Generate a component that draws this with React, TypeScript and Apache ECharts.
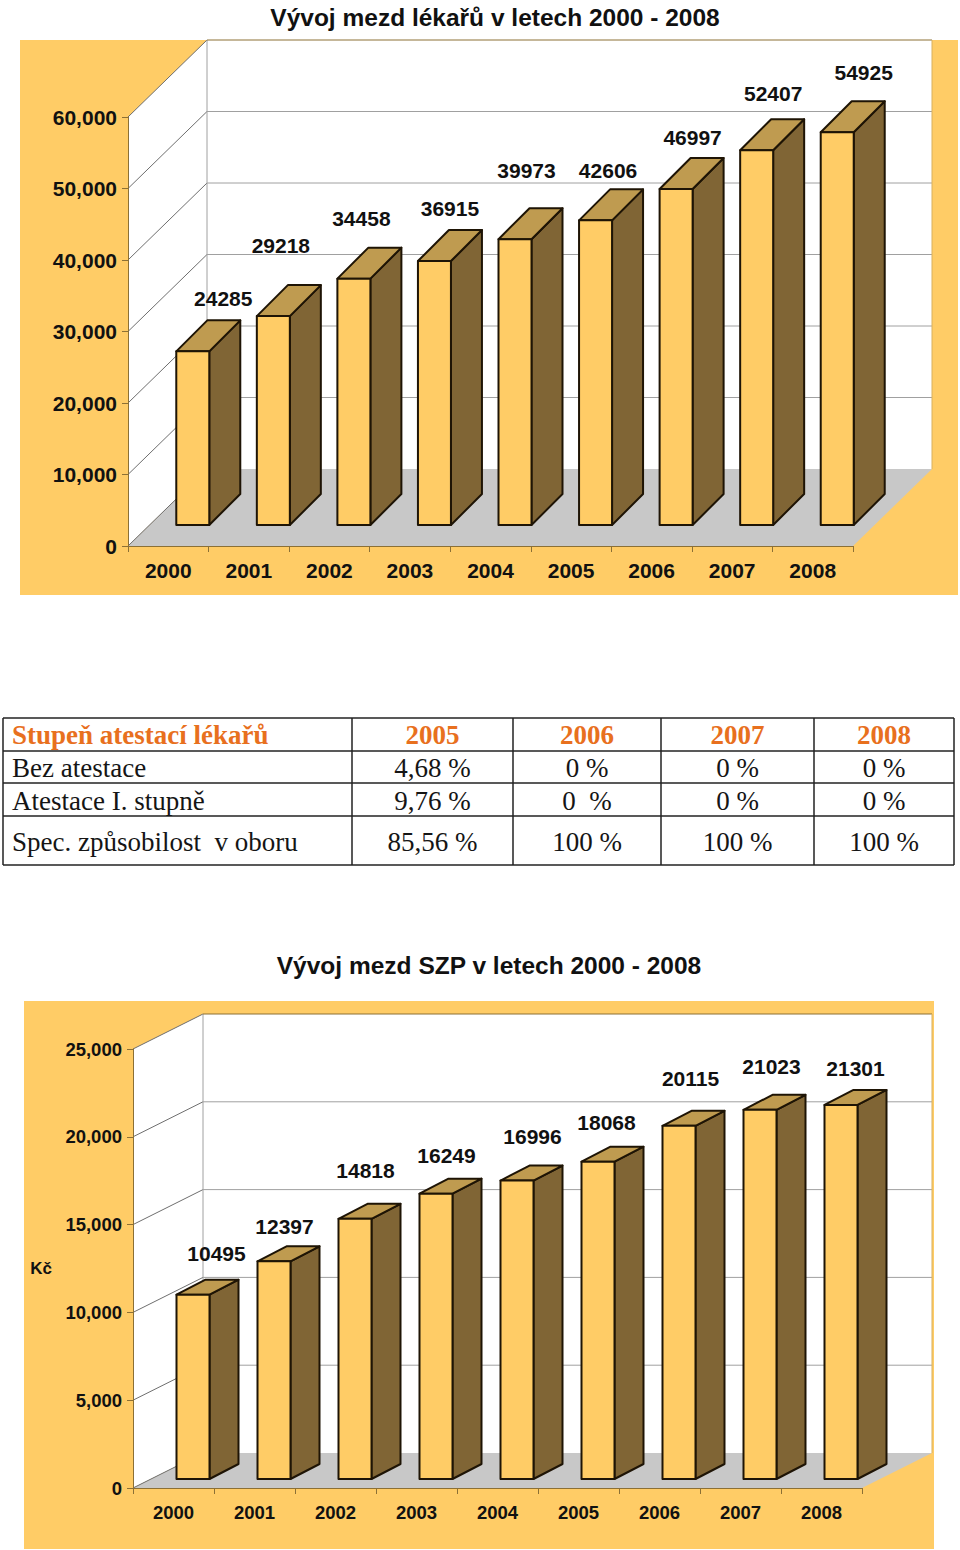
import React, { useEffect, useRef } from "react";
import * as echarts from "echarts";

const years = ["2000", "2001", "2002", "2003", "2004", "2005", "2006", "2007", "2008"];
const doctorPay = [24285, 29218, 34458, 36915, 39973, 42606, 46997, 52407, 54925];
const nursePay = [10495, 12397, 14818, 16249, 16996, 18068, 20115, 21023, 21301];
const doctorTicks = [0, 10000, 20000, 30000, 40000, 50000, 60000];
const nurseTicks = [0, 5000, 10000, 15000, 20000, 25000];
const doctorTitle = "Vývoj mezd lékařů v letech 2000 - 2008";
const nurseTitle = "Vývoj mezd SZP v letech 2000 - 2008";
const nurseAxisName = "Kč";

const tableHeader = ["Stupeň atestací lékařů", "2005", "2006", "2007", "2008"];
const tableRow1 = ["Bez atestace", "4,68 %", "0 %", "0 %", "0 %"];
const tableRow2 = ["Atestace I. stupně", "9,76 %", "0  %", "0 %", "0 %"];
const tableRow3 = ["Spec. způsobilost  v oboru", "85,56 %", "100 %", "100 %", "100 %"];

// layout (pixels)
const doctorLabelDx = [47, 24, 24, 32, 28, 29, 33, 33, 43];
const doctorLabelDy = [-22, -40, -29, -22, -38, -19, -20, -26, -29];
const nurseLabelDx = [40, 27, 27, 27, 32, 25, 28, 28, 31];
const nurseLabelDy = [-26, -20, -33, -23, -29, -24, -32, -28, -21];
const colX = [3, 352, 513, 661, 814, 954];
const rowY = [718, 751, 783, 816, 865];
const rowText = [735, 768, 801, 842];

const SANS = '"Liberation Sans", Arial, sans-serif';
const SERIF = '"Liberation Serif", "Times New Roman", serif';
const PANEL = "#FFCC66";
const TOP = "#BF9B50";
const SIDE = "#806535";
const EDGE = "#1E1405";
const AXIS = "#8C7035";
const GRID = "#A0A0A0";
const FLOOR = "#C8C8C8";
const INK = "#111111";

type Conf = {
  gridIndex: number; ticks: number[]; values: number[];
  wallDx: number; wallDy: number; barW: number; barDx: number; barDy: number;
  shift: number; lift: number; labelDx: number[]; labelDy: number[]; labelSize: number;
};

function wallsSeries(c: Conf) {
  return {
    type: "custom", coordinateSystem: "cartesian2d",
    xAxisIndex: c.gridIndex, yAxisIndex: c.gridIndex,
    z: 1, silent: true, clip: false, data: [[0, 0]],
    renderItem: (params: any, api: any) => {
      const s = params.coordSys;
      const l = s.x, r = s.x + s.width, t = s.y, b = s.y + s.height;
      const dx = c.wallDx, dy = c.wallDy;
      const children: any[] = [
        { type: "polygon", shape: { points: [[l + dx, t + dy], [r + dx, t + dy], [r + dx, b + dy], [l + dx, b + dy]] }, style: { fill: "#fff" } },
        { type: "polygon", shape: { points: [[l, t], [l + dx, t + dy], [l + dx, b + dy], [l, b]] }, style: { fill: "#fff" } },
        { type: "polygon", shape: { points: [[l, b], [r, b], [r + dx, b + dy], [l + dx, b + dy]] }, style: { fill: FLOOR } },
      ];
      c.ticks.forEach((v, i) => {
        const y = api.coord([0, v])[1];
        if (i > 0 && i < c.ticks.length - 1) {
          children.push({ type: "line", shape: { x1: l + dx, y1: y + dy, x2: r + dx, y2: y + dy }, style: { stroke: GRID, lineWidth: 1 } });
        }
        children.push({ type: "line", shape: { x1: l, y1: y, x2: l + dx, y2: y + dy }, style: { stroke: "#6E6E6E", lineWidth: 1 } });
      });
      children.push(
        { type: "line", shape: { x1: l + dx, y1: t + dy, x2: l + dx, y2: b + dy }, style: { stroke: GRID, lineWidth: 1 } },
        { type: "line", shape: { x1: l + dx, y1: t + dy, x2: r + dx, y2: t + dy }, style: { stroke: AXIS, lineWidth: 1 } },
        { type: "line", shape: { x1: r + dx, y1: t + dy, x2: r + dx, y2: b + dy }, style: { stroke: "#D8B060", lineWidth: 1 } },
      );
      return { type: "group", children };
    },
  };
}

function barsSeries(c: Conf) {
  return {
    type: "custom", coordinateSystem: "cartesian2d",
    xAxisIndex: c.gridIndex, yAxisIndex: c.gridIndex,
    z: 3, silent: true, clip: false,
    data: c.values.map((v, i) => [i, v]),
    renderItem: (params: any, api: any) => {
      const i = api.value(0);
      const top = api.coord([i, api.value(1)]);
      const base = api.coord([i, 0]);
      const x0 = top[0] + c.shift;
      const x1 = x0 + c.barW;
      const yT = top[1] - c.lift;
      const yB = base[1] - c.lift;
      const dx = c.barDx, dy = c.barDy;
      const stroke = { stroke: EDGE, lineWidth: 2, lineJoin: "round" };
      return {
        type: "group",
        children: [
          { type: "polygon", shape: { points: [[x1, yT], [x1 + dx, yT + dy], [x1 + dx, yB + dy], [x1, yB]] }, style: { fill: SIDE, ...stroke } },
          { type: "polygon", shape: { points: [[x0, yT], [x0 + dx, yT + dy], [x1 + dx, yT + dy], [x1, yT]] }, style: { fill: TOP, ...stroke } },
          { type: "polygon", shape: { points: [[x0, yT], [x1, yT], [x1, yB], [x0, yB]] }, style: { fill: PANEL, ...stroke } },
          {
            type: "text",
            style: {
              text: String(api.value(1)), x: x0 + c.labelDx[i], y: yT + dy + c.labelDy[i],
              align: "center", verticalAlign: "middle", fill: INK,
              fontFamily: SANS, fontWeight: "bold", fontSize: c.labelSize,
            },
          },
        ],
      };
    },
  };
}

function tableElements() {
  const els: any[] = [];
  const line = (x1: number, y1: number, x2: number, y2: number) => ({
    type: "line", z: 5, shape: { x1, y1, x2, y2 }, style: { stroke: "#222", lineWidth: 1.5 },
  });
  rowY.forEach((y) => els.push(line(colX[0], y, colX[5], y)));
  colX.forEach((x) => els.push(line(x, rowY[0], x, rowY[4])));
  [tableHeader, tableRow1, tableRow2, tableRow3].forEach((row, r) => {
    row.forEach((cell, c) => {
      els.push({
        type: "text", z: 6,
        style: {
          text: cell,
          x: c === 0 ? 12 : (colX[c] + colX[c + 1]) / 2,
          y: rowText[r],
          align: c === 0 ? "left" : "center",
          verticalAlign: "middle",
          fill: r === 0 ? "#E8701E" : "#151515",
          fontFamily: SERIF,
          fontWeight: r === 0 ? "bold" : "normal",
          fontSize: 27,
        },
      });
    });
  });
  return els;
}

function axisPair(index: number, grid: any, max: number, interval: number, size: number, xMargin: number) {
  return {
    x: {
      type: "category", gridIndex: index, data: years, z: 2,
      axisLine: { show: true, lineStyle: { color: AXIS, width: 1 } },
      axisTick: { show: true, length: 6, lineStyle: { color: AXIS } },
      axisLabel: { color: INK, fontFamily: SANS, fontWeight: "bold", fontSize: size, margin: xMargin, interval: 0 },
      splitLine: { show: false },
    },
    y: {
      type: "value", gridIndex: index, min: 0, max, interval, z: 2,
      axisLine: { show: true, lineStyle: { color: AXIS, width: 1 } },
      axisTick: { show: true, length: 6, lineStyle: { color: AXIS } },
      axisLabel: { color: INK, fontFamily: SANS, fontWeight: "bold", fontSize: size, margin: 11 },
      splitLine: { show: false },
    },
  };
}

export default function App() {
  const ref = useRef<HTMLDivElement>(null);
  useEffect(() => {
    const chart = echarts.init(ref.current!, undefined, { renderer: "svg" });
    const doctor: Conf = {
      gridIndex: 0, ticks: doctorTicks, values: doctorPay,
      wallDx: 79, wallDy: -77, barW: 33, barDx: 31, barDy: -31, shift: 8, lift: 21,
      labelDx: doctorLabelDx, labelDy: doctorLabelDy, labelSize: 21,
    };
    const nurse: Conf = {
      gridIndex: 1, ticks: nurseTicks, values: nursePay,
      wallDx: 70, wallDy: -35, barW: 33, barDx: 29, barDy: -15, shift: 3, lift: 9,
      labelDx: nurseLabelDx, labelDy: nurseLabelDy, labelSize: 21,
    };
    const a0 = axisPair(0, null, 60000, 10000, 21, 14);
    const a1 = axisPair(1, null, 25000, 5000, 18.5, 15);
    chart.setOption({
      animation: false,
      backgroundColor: "#fff",
      title: [
        { text: doctorTitle, left: 490, top: 0, textAlign: "center", textStyle: { fontFamily: SANS, fontWeight: "bold", fontSize: 24.5, color: INK } },
        { text: nurseTitle, left: 484, top: 948, textAlign: "center", textStyle: { fontFamily: SANS, fontWeight: "bold", fontSize: 24.5, color: INK } },
      ],
      grid: [
        { left: 128, top: 117, width: 725, height: 429, containLabel: false },
        { left: 133, top: 1049, width: 729, height: 439, containLabel: false },
      ],
      xAxis: [a0.x, a1.x],
      yAxis: [a0.y, a1.y],
      graphic: {
        elements: [
          { type: "rect", z: -2, shape: { x: 20, y: 40, width: 938, height: 555 }, style: { fill: PANEL } },
          { type: "rect", z: -2, shape: { x: 24, y: 1001, width: 910, height: 548 }, style: { fill: PANEL } },
          { type: "text", z: 6, style: { text: nurseAxisName, x: 41, y: 1268, align: "center", verticalAlign: "middle", fill: INK, fontFamily: SANS, fontWeight: "bold", fontSize: 17 } },
          ...tableElements(),
        ],
      },
      series: [wallsSeries(doctor), barsSeries(doctor), wallsSeries(nurse), barsSeries(nurse)],
    });
    return () => chart.dispose();
  }, []);
  return <div ref={ref} style={{ position: "absolute", left: 0, top: 0, width: 960, height: 1550 }} />;
}
